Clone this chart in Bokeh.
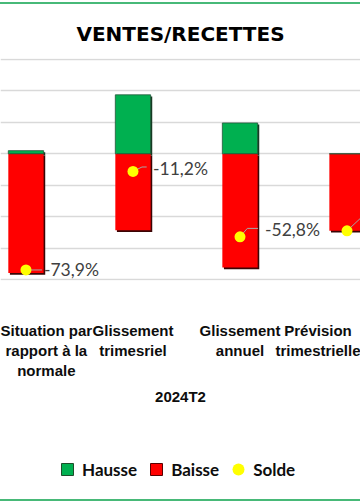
from bokeh.plotting import figure
from bokeh.layouts import column
from bokeh.models import Range1d, FixedTicker, Legend, LegendItem, Div
from bokeh.embed import file_html
from bokeh.resources import INLINE
from bokeh.core.properties import value

# ---- data ----
title = "VENTES/RECETTES"
period = "2024T2"
categories = ["Situation par\nrapport à la\nnormale", "Glissement\ntrimesriel",
              "Glissement\nannuel", "Prévision\ntrimestrielle"]
series = ["Hausse", "Baisse", "Solde"]
hausse = [2.0, 37.5, 19.6, 0.0]
baisse = [75.9, 48.7, 72.4, 49.0]
solde = [-73.9, -11.2, -52.8, -49.0]
y_ticks = [-80, -60, -40, -20, 0, 20, 40, 60]

# ---- styling ----
W = 360
H1, H2 = 426, 68
TOP, BOTTOM = 54, 150
X0, X1 = -0.238, 3.126
Y0, Y1 = -80.6, 60.6
GREEN, RED, YELLOW = "#00B050", "#FF0000", "#FFFF00"
LINE = "#47B978"
px_x = W / (X1 - X0)
px_y = (H1 - TOP - BOTTOM) / (Y1 - Y0)

x = list(range(len(categories)))
neg_baisse = [-b for b in baisse]
zeros = [0] * len(x)

p = figure(width=W, height=H1, x_range=Range1d(X0, X1), y_range=Range1d(Y0, Y1),
           output_backend="svg", toolbar_location=None,
           min_border_left=0, min_border_right=0,
           min_border_top=TOP, min_border_bottom=BOTTOM, title=title)
p.outline_line_color = None
p.background_fill_color = "white"
p.border_fill_color = "white"

p.title.align = "center"
p.title.text_font = "DejaVu Sans"
p.title.text_font_style = "bold"
p.title.text_font_size = "20px"
p.title.text_color = "#000000"
p.title.standoff = 25

p.yaxis.visible = False
p.xgrid.visible = False
p.ygrid.ticker = FixedTicker(ticks=y_ticks)
p.ygrid.grid_line_color = "#D9D9D9"
p.ygrid.grid_line_width = 1.5

p.xaxis.ticker = FixedTicker(ticks=x)
p.xaxis.major_label_overrides = {i: c for i, c in zip(x, categories)}
p.xaxis.axis_line_color = None
p.xaxis.major_tick_line_color = None
p.xaxis.minor_tick_line_color = None
p.xaxis.major_label_standoff = 35
p.xaxis.major_label_text_font = "Liberation Sans"
p.xaxis.major_label_text_font_style = "bold"
p.xaxis.major_label_text_font_size = "15px"
p.xaxis.major_label_text_color = "#0D0D0D"
p.xaxis.axis_label = period
p.xaxis.axis_label_text_font = "Liberation Sans"
p.xaxis.axis_label_text_font_style = "bold"
p.xaxis.axis_label_text_font_size = "15px"
p.xaxis.axis_label_text_color = "#0D0D0D"
p.xaxis.axis_label_standoff = 6

# bars with shadow
BW = 0.33
sdx, sdy = 1.6 / px_x, 1.6 / px_y
p.vbar(x=[v + sdx for v in x], bottom=[-sdy] * len(x), top=[t - sdy for t in neg_baisse],
       width=BW, fill_color="#3A0505", line_color=None)
p.vbar(x=[v + sdx for v in x], bottom=[-sdy] * len(x), top=[t - sdy for t in hausse],
       width=BW, fill_color="#153A22", line_color=None)
p.vbar(x=x, bottom=zeros, top=neg_baisse, width=BW, fill_color=RED, line_color=None)
p.vbar(x=x, bottom=zeros, top=hausse, width=BW, fill_color=GREEN,
       line_color="#24553A", line_width=0.8)

# leader lines (pixel offsets from the dot)
el_dx = [16, 9, 7.3, 15]
el_dy = [0, 4.4, 8.4, 14]
end_dx = [16, 13.7, 18, 25]
xs, ys = [], []
for xi, s, a, b, c in zip(x, solde, el_dx, el_dy, end_dx):
    xs.append([xi, xi + a / px_x, xi + c / px_x])
    ys.append([s, s + b / px_y, s + b / px_y])
p.multi_line(xs, ys, line_color="#A6A6A6", line_width=1)

p.scatter(x=x, y=solde, size=11, fill_color=YELLOW, line_color=None)

labels = [f"{v:.1f}".replace(".", ",") + "%" for v in solde]
txt_dx = [18, 20, 25, 28]
txt_dy = [0, -2.7, -7.7, -14]
p.text(x=x, y=solde, text=labels, x_offset=txt_dx, y_offset=txt_dy,
       text_align="left", text_baseline="middle", text_font=value("Lato"),
       text_font_size="17.5px", text_color="#404040")

# legend (own strip below the chart)
q = figure(width=W, height=H2, x_axis_type=None, y_axis_type=None,
           x_range=Range1d(0, 1), y_range=Range1d(0, 1),
           output_backend="svg", toolbar_location=None,
           min_border=0, outline_line_color=None)
q.grid.visible = False
lg_h = q.scatter(x=[-1], y=[-1], marker="square", fill_color=GREEN, line_color="#1E4D2B")
lg_b = q.scatter(x=[-1], y=[-1], marker="square", fill_color=RED, line_color="#5A0000")
lg_s = q.scatter(x=[-1], y=[-1], marker="circle", fill_color=YELLOW, line_color=None)
legend = Legend(items=[LegendItem(label=s, renderers=[r])
                       for s, r in zip(series, [lg_h, lg_b, lg_s])],
                orientation="horizontal", location=(52, 14),
                glyph_width=30, glyph_height=30, label_standoff=-4, spacing=4,
                label_text_font="Lato", label_text_font_style="bold",
                label_text_font_size="17px", label_text_color="#0D0D0D",
                border_line_color=None, background_fill_alpha=0,
                padding=0, margin=0)
q.add_layout(legend, "center")

top_line = Div(text="", width=W, height=2, margin=(2, 0, 0, 0),
               styles={"background-color": LINE})
bottom_line = Div(text="", width=W, height=2, margin=(1, 0, 0, 0),
                  styles={"background-color": LINE})
layout = column(top_line, p, q, bottom_line, spacing=0)

open("out.html", "w").write(file_html(layout, INLINE))
